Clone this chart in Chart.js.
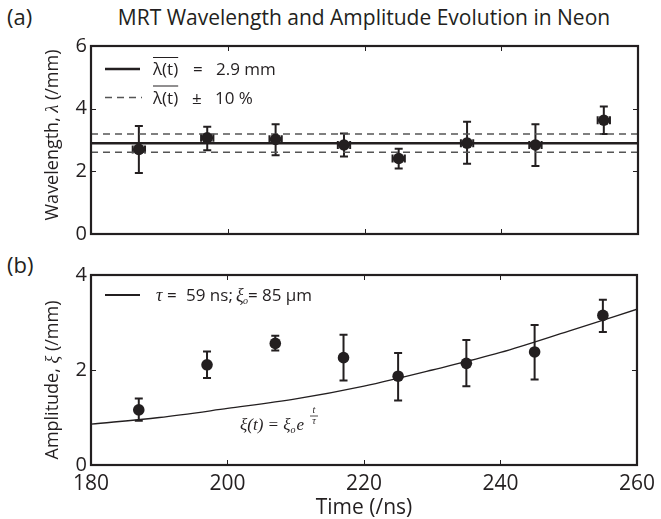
<!DOCTYPE html>
<html><head><meta charset="utf-8">
<script src="https://cdn.jsdelivr.net/npm/chart.js@4.4.1/dist/chart.umd.min.js"></script>
<style>
body{margin:0;background:#fff;width:661px;height:519px;overflow:hidden;position:relative;font-family:'Open Sans',sans-serif;color:#231f20}
canvas{position:absolute;left:0}
#c1{top:0}
#c2{top:250px}
.lbl{position:absolute;white-space:nowrap;line-height:1}
</style></head><body>
<div class="lbl" style="left:0;width:728px;text-align:center;top:7px;font-size:21px">MRT Wavelength and Amplitude Evolution in Neon</div>
<div class="lbl" style="left:7px;top:5px;font-size:22px">(a)</div>
<div class="lbl" style="left:7px;top:253px;font-size:22px">(b)</div>
<canvas id="c1" width="661" height="250"></canvas>
<canvas id="c2" width="661" height="269"></canvas>
<script>
// ---- data ----
const times = [187, 197, 207, 217, 225, 235, 245, 255];
const timeErr = [0.9, 0.9, 0.9, 0.9, 0.9, 0.9, 0.9, 0.9];
const wavelength = [2.70, 3.07, 3.02, 2.84, 2.41, 2.90, 2.84, 3.63];
const wavelengthLow = [1.95, 2.67, 2.51, 2.47, 2.09, 2.24, 2.17, 3.19];
const wavelengthHigh = [3.45, 3.42, 3.50, 3.21, 2.72, 3.58, 3.50, 4.07];
const meanWavelength = 2.9;
const bandLow = 2.61;
const bandHigh = 3.19;
const amplitude = [1.16, 2.11, 2.56, 2.26, 1.87, 2.14, 2.38, 3.15];
const amplitudeLow = [0.93, 1.83, 2.41, 1.78, 1.36, 1.66, 1.80, 2.80];
const amplitudeHigh = [1.40, 2.39, 2.72, 2.74, 2.36, 2.63, 2.95, 3.48];
const fitTimes = [180, 190, 200, 210, 220, 230, 240, 250, 260];
const fitAmplitude = [0.86, 1.00, 1.19, 1.39, 1.66, 2.00, 2.37, 2.82, 3.28];
const xTicks = [180, 200, 220, 240, 260];
const yTicksA = [0, 2, 4, 6];
const yTicksB = [0, 2, 4];

const INK = '#231f20';
const SANS = "'Open Sans', sans-serif";
const SERIF = "'Liberation Serif', 'DejaVu Serif', serif";

const errorBars = {
  id: 'errorBars',
  beforeDatasetsDraw(chart, args, o) {
    const {ctx, scales: {x, y}} = chart;
    ctx.save();
    ctx.strokeStyle = INK; ctx.lineWidth = 2;
    o.t.forEach((t, i) => {
      const px = x.getPixelForValue(t);
      const lo = y.getPixelForValue(o.lo[i]), hi = y.getPixelForValue(o.hi[i]);
      ctx.beginPath();
      ctx.moveTo(px, lo); ctx.lineTo(px, hi);
      ctx.moveTo(px - 4, lo); ctx.lineTo(px + 4, lo);
      ctx.moveTo(px - 4, hi); ctx.lineTo(px + 4, hi);
      if (o.xerr) {
        const py = y.getPixelForValue(o.v[i]);
        const l = x.getPixelForValue(t - o.xerr[i]), r = x.getPixelForValue(t + o.xerr[i]);
        ctx.moveTo(l, py); ctx.lineTo(r, py);
        ctx.moveTo(l, py - 4); ctx.lineTo(l, py + 4);
        ctx.moveTo(r, py - 4); ctx.lineTo(r, py + 4);
      }
      ctx.stroke();
    });
    ctx.restore();
  }
};

const frame = {
  id: 'frame',
  afterDraw(chart, args, o) {
    const {ctx, chartArea: a, scales: {x, y}} = chart;
    ctx.save();
    ctx.strokeStyle = INK; ctx.lineWidth = 1;
    ctx.beginPath();
    x.ticks.forEach(t => {
      const p = Math.round(x.getPixelForValue(t.value)) + 0.5;
      ctx.moveTo(p, a.bottom); ctx.lineTo(p, a.bottom - 5);
      ctx.moveTo(p, a.top); ctx.lineTo(p, a.top + 5);
    });
    y.ticks.forEach(t => {
      const p = Math.round(y.getPixelForValue(t.value)) + 0.5;
      ctx.moveTo(a.left, p); ctx.lineTo(a.left + 5, p);
      ctx.moveTo(a.right, p); ctx.lineTo(a.right - 5, p);
    });
    ctx.stroke();
    ctx.lineWidth = 2.2;
    ctx.strokeRect(a.left, a.top, a.right - a.left, a.bottom - a.top);
    // y axis title (rotated, mixed fonts)
    ctx.fillStyle = INK;
    ctx.translate(o.titleX, (a.top + a.bottom) / 2 + (o.titleDy || 0));
    ctx.rotate(-Math.PI / 2);
    ctx.textBaseline = 'middle';
    const parts = o.yTitle;
    let total = 0;
    parts.forEach(p => { ctx.font = p.font; total += ctx.measureText(p.text).width; });
    let cx = -total / 2;
    parts.forEach(p => { ctx.font = p.font; ctx.fillText(p.text, cx, p.dy || 0); cx += ctx.measureText(p.text).width; });
    ctx.restore();
    if (o.extra) o.extra(ctx, chart);
  }
};

function scaleX(showLabels, height) {
  return {
    type: 'linear', min: 180, max: 260,
    afterBuildTicks: s => { s.ticks = xTicks.map(v => ({value: v})); },
    ticks: {display: showLabels, color: INK, font: {family: SANS, size: 21}, padding: 6, maxRotation: 0},
    grid: {display: false, drawTicks: false}, border: {display: false},
    afterFit: s => { s.height = height; }
  };
}
function scaleY(max, ticks) {
  return {
    type: 'linear', min: 0, max: max,
    afterBuildTicks: s => { s.ticks = ticks.map(v => ({value: v})); },
    ticks: {color: INK, font: {family: SANS, size: 20}, padding: 4},
    grid: {display: false, drawTicks: false}, border: {display: false},
    afterFit: s => { s.width = 91; }
  };
}

function drawOverlined(ctx, text, x, y, lineY) {
  ctx.fillText(text, x, y);
  const w = ctx.measureText(text).width;
  ctx.beginPath(); ctx.lineWidth = 1; ctx.moveTo(x, lineY); ctx.lineTo(x + w, lineY); ctx.stroke();
}

// ---- panel (a) ----
new Chart(document.getElementById('c1'), {
  type: 'scatter',
  data: {datasets: [
    {data: times.map((t, i) => ({x: t, y: wavelength[i]})), pointRadius: 5.8, pointBackgroundColor: INK, pointBorderWidth: 0, showLine: false},
    {type: 'line', data: [{x: 180, y: meanWavelength}, {x: 260, y: meanWavelength}], borderColor: INK, borderWidth: 2.5, pointRadius: 0},
    {type: 'line', data: [{x: 180, y: bandHigh}, {x: 260, y: bandHigh}], borderColor: '#555', borderWidth: 1.5, borderDash: [7, 5], pointRadius: 0},
    {type: 'line', data: [{x: 180, y: bandLow}, {x: 260, y: bandLow}], borderColor: '#555', borderWidth: 1.5, borderDash: [7, 5], pointRadius: 0}
  ]},
  options: {
    responsive: false, animation: false, events: [],
    layout: {padding: {top: 46, right: 23, left: 0, bottom: 0}},
    scales: {x: scaleX(false, 13), y: scaleY(6, yTicksA)},
    plugins: {
      legend: {display: false}, tooltip: {enabled: false},
      errorBars: {t: times, v: wavelength, lo: wavelengthLow, hi: wavelengthHigh, xerr: timeErr},
      frame: {
        titleX: 53, titleDy: -5,
        yTitle: [
          {text: 'Wavelength, ', font: `18px ${SANS}`},
          {text: 'λ', font: `italic 18px ${SERIF}`},
          {text: ' (/mm)', font: `18px ${SANS}`}
        ],
        extra(ctx) {
          ctx.save();
          ctx.strokeStyle = INK; ctx.fillStyle = INK;
          ctx.lineWidth = 2.5;
          ctx.beginPath(); ctx.moveTo(105, 69); ctx.lineTo(140, 69); ctx.stroke();
          ctx.lineWidth = 1.5; ctx.strokeStyle = '#555'; ctx.setLineDash([7, 5]);
          ctx.beginPath(); ctx.moveTo(105, 97.5); ctx.lineTo(142, 97.5); ctx.stroke();
          ctx.setLineDash([]); ctx.strokeStyle = INK;
          ctx.font = `17px ${SANS}`; ctx.textBaseline = 'alphabetic';
          drawOverlined(ctx, 'λ(t)', 153, 75, 57.5);
          ctx.fillText('=', 193, 75);
          ctx.fillText('2.9 mm', 216, 75);
          drawOverlined(ctx, 'λ(t)', 153, 103.5, 86);
          ctx.fillText('±', 192, 103.5);
          ctx.fillText('10 %', 215, 103.5);
          ctx.restore();
        }
      }
    }
  },
  plugins: [errorBars, frame]
});

// ---- panel (b) ----
new Chart(document.getElementById('c2'), {
  type: 'scatter',
  data: {datasets: [
    {data: times.map((t, i) => ({x: t, y: amplitude[i]})), pointRadius: 5.8, pointBackgroundColor: INK, pointBorderWidth: 0, showLine: false},
    {type: 'line', data: fitTimes.map((t, i) => ({x: t, y: fitAmplitude[i]})), borderColor: INK, borderWidth: 1.3, pointRadius: 0, cubicInterpolationMode: 'monotone'}
  ]},
  options: {
    responsive: false, animation: false, events: [],
    layout: {padding: {top: 25, right: 23, left: 0, bottom: 0}},
    scales: {x: scaleX(true, 54), y: scaleY(4, yTicksB)},
    plugins: {
      legend: {display: false}, tooltip: {enabled: false},
      errorBars: {t: times, v: amplitude, lo: amplitudeLow, hi: amplitudeHigh},
      frame: {
        titleX: 53, titleDy: 10,
        yTitle: [
          {text: 'Amplitude, ', font: `18px ${SANS}`},
          {text: 'ξ', font: `italic 18px ${SERIF}`},
          {text: ' (/mm)', font: `18px ${SANS}`}
        ],
        extra(ctx) {
          ctx.save();
          ctx.strokeStyle = INK; ctx.fillStyle = INK;
          ctx.lineWidth = 1.8;
          ctx.beginPath(); ctx.moveTo(105, 45); ctx.lineTo(140, 45); ctx.stroke();
          ctx.textBaseline = 'alphabetic';
          ctx.font = `italic 18px ${SERIF}`; ctx.fillText('τ', 156, 51);
          ctx.font = `17px ${SANS}`; ctx.fillText('=', 167, 51); ctx.fillText('59 ns;', 186, 51);
          ctx.font = `italic 18px ${SERIF}`; ctx.fillText('ξ', 236, 51);
          ctx.font = `italic 10px ${SERIF}`; ctx.fillText('o', 243, 54);
          ctx.font = `17px ${SANS}`; ctx.fillText('=', 248, 51); ctx.fillText('85 μm', 262, 51);
          // equation
          ctx.font = `italic 17px ${SERIF}`;
          ctx.fillText('ξ(t) = ξ', 240, 180);
          let w = ctx.measureText('ξ(t) = ξ').width;
          ctx.font = `italic 10px ${SERIF}`; ctx.fillText('o', 240 + w, 183);
          ctx.font = `italic 17px ${SERIF}`; ctx.fillText('e', 246 + w, 180);
          ctx.font = `italic 10px ${SERIF}`; ctx.textAlign = 'center';
          ctx.fillText('t', 314, 163);
          ctx.fillText('τ', 314, 174);
          ctx.lineWidth = 0.8; ctx.beginPath(); ctx.moveTo(310, 166); ctx.lineTo(318, 166); ctx.stroke();
          // x axis title
          ctx.textAlign = 'center'; ctx.font = `21px ${SANS}`; ctx.textBaseline = 'middle';
          ctx.fillText('Time (/ns)', 364, 258);
          ctx.restore();
        }
      }
    }
  },
  plugins: [errorBars, frame]
});
</script>
</body></html>
